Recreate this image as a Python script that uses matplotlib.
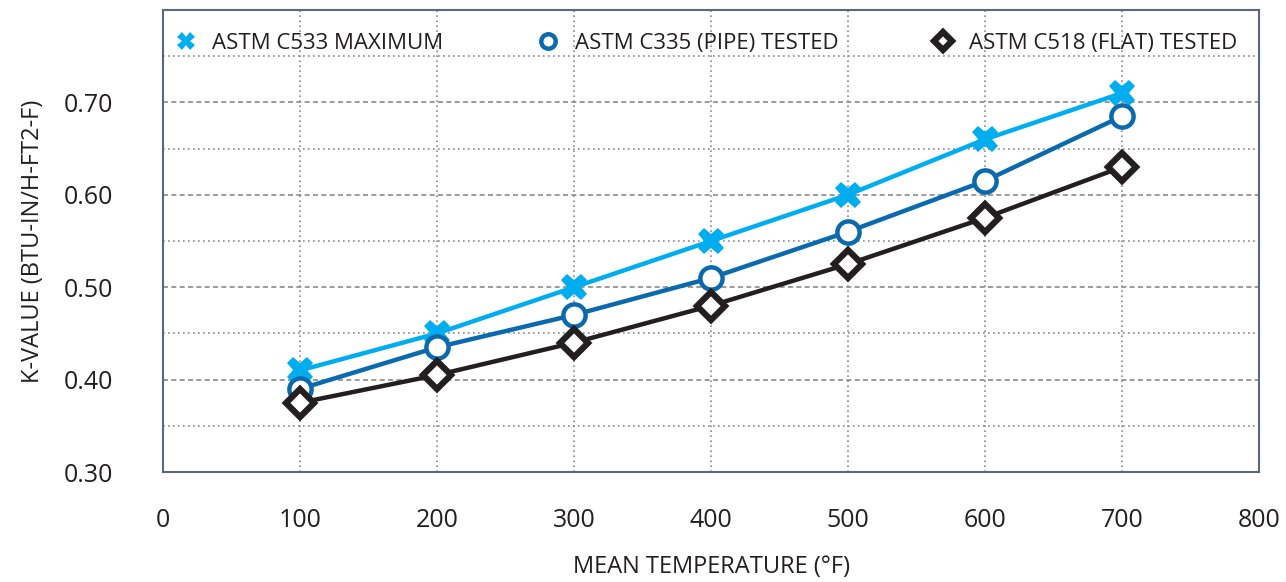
import matplotlib
matplotlib.use('Agg')
import matplotlib.pyplot as plt
from matplotlib.ticker import MultipleLocator

plt.rcParams['font.family'] = ['Open Sans', 'DejaVu Sans']

temps = [100, 200, 300, 400, 500, 600, 700]
c533_max = [0.41, 0.45, 0.50, 0.55, 0.60, 0.66, 0.71]
c335_pipe = [0.39, 0.435, 0.47, 0.51, 0.56, 0.615, 0.685]
c518_flat = [0.375, 0.405, 0.44, 0.48, 0.525, 0.575, 0.63]

labels = ['ASTM C533 MAXIMUM', 'ASTM C335 (PIPE) TESTED', 'ASTM C518 (FLAT) TESTED']
light_blue = '#00aeef'
dark_blue = '#0a6aad'
black = '#231f20'
text_col = '#231f20'

fig = plt.figure(figsize=(12.86, 5.82), dpi=100)
ax = fig.add_axes([0.127, 0.189, 0.852, 0.794])

ax.plot(temps, c533_max, color=light_blue, lw=3.2, marker='X', ms=19, mew=0,
        label=labels[0], zorder=3)
ax.plot(temps, c335_pipe, color=dark_blue, lw=3.2, marker='o', ms=16, mew=3.2,
        mfc='white', mec=dark_blue, label=labels[1], zorder=4)
ax.plot(temps, c518_flat, color=black, lw=3.2, marker='D', ms=14, mew=4.5,
        mfc='white', mec=black, label=labels[2], zorder=5)

ax.set_xlim(0, 800)
ax.set_ylim(0.30, 0.80)
ax.set_xticks(range(0, 801, 100))
ax.set_yticks([0.30, 0.40, 0.50, 0.60, 0.70])
ax.set_yticklabels(['0.30', '0.40', '0.50', '0.60', '0.70'])
ax.yaxis.set_minor_locator(MultipleLocator(0.05))

# dashed major / dotted minor grid like the original
ax.grid(axis='y', which='major', color='#8a8a8a', ls=(0, (3, 2)), lw=1.2)
ax.grid(axis='y', which='minor', color='#8a8a8a', ls=(0, (1, 2)), lw=1.2)
ax.grid(axis='x', which='major', color='#8a8a8a', ls=(0, (1, 2)), lw=1.2)
ax.set_axisbelow(True)

for s in ax.spines.values():
    s.set_color('#5b6782')
    s.set_linewidth(1.5)

ax.tick_params(axis='both', which='both', length=0, labelsize=18, colors=text_col)
ax.tick_params(axis='x', pad=26)
ax.tick_params(axis='y', pad=36)

ax.set_xlabel('MEAN TEMPERATURE (°F)', fontsize=17, color=text_col, labelpad=16)
ax.set_ylabel('K-VALUE (BTU-IN/H-FT2-F)', fontsize=17, color=text_col, labelpad=14)

leg = ax.legend(loc='upper left', ncol=3, frameon=False, fontsize=16,
                bbox_to_anchor=(-0.013, 1.0), borderaxespad=0.65,
                handlelength=1.2, handletextpad=0.6, columnspacing=4.1,
                markerscale=0.65)
for h in leg.legend_handles:
    h.set_linestyle('none')
for t in leg.get_texts():
    t.set_color(text_col)

fig.savefig('out.png', dpi=100)
